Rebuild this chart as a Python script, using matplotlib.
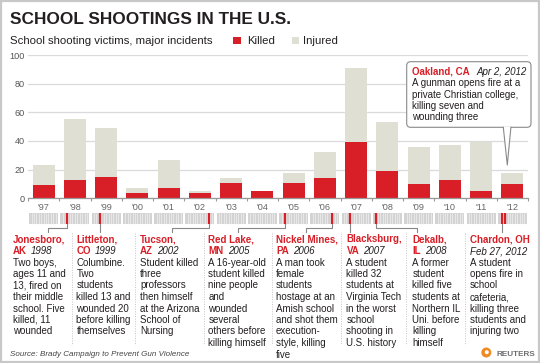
import numpy as np
import matplotlib
matplotlib.use("Agg")
import matplotlib.pyplot as plt
from matplotlib.patches import Rectangle, FancyBboxPatch, Polygon, Circle

plt.rcParams['font.family'] = ['Liberation Sans', 'DejaVu Sans']

# ---- data ----
years = ["'97", "'98", "'99", "'00", "'01", "'02", "'03", "'04",
         "'05", "'06", "'07", "'08", "'09", "'10", "'11", "'12"]
killed = [9, 13, 15, 4, 7, 4, 11, 5, 11, 14, 39, 19, 10, 13, 5, 10]
injured = [14, 42, 34, 3, 20, 1, 3, 0, 7, 18, 52, 34, 26, 24, 34, 8]
y_ticks = [0, 20, 40, 60, 80, 100]

# incidents marked on the timeline strip (year index, month, day)
ev_year_idx = [1, 2, 5, 8, 9, 10, 11, 15, 15]
ev_month = [3, 4, 10, 3, 10, 4, 2, 2, 4]
ev_day = [24, 20, 28, 21, 2, 16, 14, 27, 2]

# text columns below the strip
col_place = ["Jonesboro,", "Littleton,", "Tucson,", "Red Lake,",
             "Nickel Mines,", "Blacksburg,", "Dekalb,", "Chardon, OH"]
col_state = ["AK", "CO", "AZ", "MN", "PA", "VA", "IL", ""]
col_date = ["1998", "1999", "2002", "2005", "2006", "2007", "2008",
            "Feb 27, 2012"]
col_desc = [
    ["Two boys,", "ages 11 and", "13, fired on", "their middle",
     "school. Five", "killed, 11", "wounded"],
    ["Columbine.", "Two", "students", "killed 13 and", "wounded 20",
     "before killing", "themselves"],
    ["Student killed", "three", "professors", "then himself",
     "at the Arizona", "School of", "Nursing"],
    ["A 16-year-old", "student killed", "nine people", "and", "wounded",
     "several", "others before", "killing himself"],
    ["A man took", "female", "students", "hostage at an", "Amish school",
     "and shot them", "execution-", "style, killing", "five"],
    ["A student", "killed 32", "students at", "Virginia Tech",
     "in the worst", "school", "shooting in", "U.S. history"],
    ["A former", "student", "killed five", "students at", "Northern IL",
     "Uni. before", "killing", "himself"],
    ["A student", "opens fire in", "school", "cafeteria,", "killing three",
     "students and", "injuring two"],
]
callout_place = "Oakland, CA"
callout_date = "Apr 2, 2012"
callout_desc = ["A gunman opens fire at a", "private Christian college,",
                "killing seven and", "wounding three"]

# ---- layout (pixels) ----
W, H = 540, 363
RED = '#d81e27'
BEIGE = '#e0dfd4'
DARK = '#231f20'
col_x = [13, 76.5, 140, 208.5, 276, 346.5, 412.5, 470]
col_link = [48, None, 172, 238, 305.5, None, 416.5, None]
sep_x = [71.5, 135, 204, 271.5, 341, 406, 465]


def fx(px):
    return px / W


def fy(py):
    return 1 - py / H


fig = plt.figure(figsize=(W / 100, H / 100), dpi=100)
fig.patch.set_facecolor('white')

# main bar chart
ax = fig.add_axes([fx(28), fy(198.3), 500 / W, 143.3 / H])
ax.patch.set_alpha(0)
x = np.arange(len(years))
ax.bar(x, killed, width=0.7, color=RED, zorder=3)
ax.bar(x, injured, bottom=killed, width=0.7, color=BEIGE, zorder=3)
ax.set_xlim(-0.5, 15.5)
ax.set_ylim(0, 100)
ax.set_yticks(y_ticks)
ax.yaxis.grid(True, color='#dadada', lw=0.9)
ax.set_axisbelow(True)
ax.tick_params(axis='y', length=0, pad=2.5, labelsize=6.6, labelcolor='#555555')
for s in ['top', 'right', 'left']:
    ax.spines[s].set_visible(False)
ax.spines['bottom'].set_color('#999999')
ax.spines['bottom'].set_linewidth(0.9)
ax.spines['bottom'].set_zorder(4)
ax.set_xticks(x)
ax.set_xticklabels(years)
ax.set_xticks(np.arange(-0.5, 15.6, 1), minor=True)
ax.tick_params(axis='x', which='major', length=0, pad=3.5, labelsize=6.6,
               labelcolor='#666666')
ax.tick_params(axis='x', which='minor', length=2.4, width=0.8, color='#999999')

# timeline strip
ax_t = fig.add_axes([fx(28), fy(234), 500 / W, 22 / H])
ax_t.set_xlim(-0.5, 15.5)
ax_t.set_ylim(234, 212)
ax_t.axis('off')
seg_w = 0.93
for i in x:
    x0 = i - seg_w / 2
    ax_t.add_patch(Rectangle((x0, 213.3), seg_w, 11, color='#d3d3d3', lw=0))
    ax_t.vlines(x0 + seg_w * np.arange(1, 12) / 12, 213.3, 224.3,
                color='#f4f4f4', lw=0.45)

days_before = [0, 31, 59, 90, 120, 151, 181, 212, 243, 273, 304, 334]
ev_pos = []
for yi, m, d in zip(ev_year_idx, ev_month, ev_day):
    frac = (days_before[m - 1] + d - 1) / 365
    ev_pos.append(yi - seg_w / 2 + seg_w * frac)
ax_t.vlines(ev_pos, 213.3, 224.3, color=RED, lw=1.6)


def px_to_x(px):
    return (px - 28) / 500 * 16 - 0.5


for k in range(len(col_place)):
    p = ev_pos[k]
    if col_link[k] is None:
        ax_t.plot([p, p], [224.3, 232.5], color='#888888', lw=0.8)
    else:
        c = px_to_x(col_link[k])
        ax_t.plot([p, p, c, c], [224.3, 228.3, 228.3, 232.5],
                  color='#888888', lw=0.8)

# overlay in pixel coordinates for text and decorations
ov = fig.add_axes([0, 0, 1, 1], zorder=5)
ov.set_xlim(0, W)
ov.set_ylim(H, 0)
ov.axis('off')
ov.patch.set_alpha(0)

ov.add_patch(Rectangle((1, 1), W - 2, H - 2.5, fill=False,
                       ec='#c8c8c8', lw=1.6))

ov.text(10, 24, "SCHOOL SHOOTINGS IN THE U.S.", fontsize=12.4,
        fontweight='bold', color=DARK, va='baseline')
ov.text(10, 44.5, "School shooting victims, major incidents", fontsize=8.2,
        color=DARK, va='baseline')
ov.add_patch(Rectangle((233.3, 36.8), 7.6, 7.6, color=RED, lw=0))
ov.text(247, 44.5, "Killed", fontsize=8.2, color=DARK, va='baseline')
ov.add_patch(Rectangle((291.7, 36.8), 7.6, 7.6, color=BEIGE, lw=0))
ov.text(302.7, 44.5, "Injured", fontsize=8.2, color=DARK, va='baseline')

FS = 7
LS = 11.5
for k in range(len(col_place)):
    cx = col_x[k]
    b = 242.5
    ov.text(cx, b, col_place[k], fontsize=FS, fontweight='bold', color=RED,
            va='baseline')
    b += LS
    if col_state[k]:
        t = ov.text(cx, b, col_state[k], fontsize=FS, fontweight='bold',
                    color=RED, va='baseline')
        ov.annotate(col_date[k], xy=(1, 0), xycoords=t, xytext=(3, 0),
                    textcoords='offset points', fontsize=FS, style='italic',
                    color=DARK, va='bottom', ha='left')
    else:
        ov.text(cx, b, col_date[k], fontsize=FS, style='italic', color=DARK,
                va='baseline')
    for line in col_desc[k]:
        b += LS
        ov.text(cx, b, line, fontsize=FS, color=DARK, va='baseline')

for sx in sep_x:
    ov.plot([sx, sx], [233, 345], color='#c4c4c4', lw=0.7,
            linestyle=(0, (1, 1.5)))

# callout for Oakland
ov.add_patch(FancyBboxPatch((406.7, 61.7), 124.3, 65.6,
                            boxstyle='round,pad=0,rounding_size=4',
                            fc='white', ec='#8a8a8a', lw=0.8, zorder=6))
ov.add_patch(Polygon([(503.3, 126.6), (507.3, 165), (510.9, 126.6)],
                     closed=True, fc='white', ec='none', zorder=7))
ov.plot([503.3, 507.3, 510.9], [127.3, 165, 127.3], color='#8a8a8a',
        lw=0.8, zorder=8)
t = ov.text(412.3, 75, callout_place, fontsize=FS, fontweight='bold',
            color=RED, va='baseline', zorder=9)
ov.annotate(callout_date, xy=(1, 0), xycoords=t, xytext=(4.5, 0),
            textcoords='offset points', fontsize=FS, style='italic',
            color=DARK, va='bottom', ha='left', zorder=9)
for j, line in enumerate(callout_desc):
    ov.text(412.3, 75 + 11.3 * (j + 1), line, fontsize=FS, color=DARK,
            va='baseline', zorder=9)

# footer
ov.text(10, 355.5, "Source: Brady Campaign to Prevent Gun Violence",
        fontsize=5.8, style='italic', color='#444444', va='baseline')
ov.add_patch(Circle((486.3, 352.5), 5, color='#f08a24', lw=0))
ov.add_patch(Circle((486.8, 352.2), 2, color='white', lw=0))
ov.text(496.5, 355.5, "REUTERS", fontsize=5.9, color='#6d6e71',
        fontweight='bold', va='baseline')

fig.savefig('out.png', dpi=100, facecolor='white')
